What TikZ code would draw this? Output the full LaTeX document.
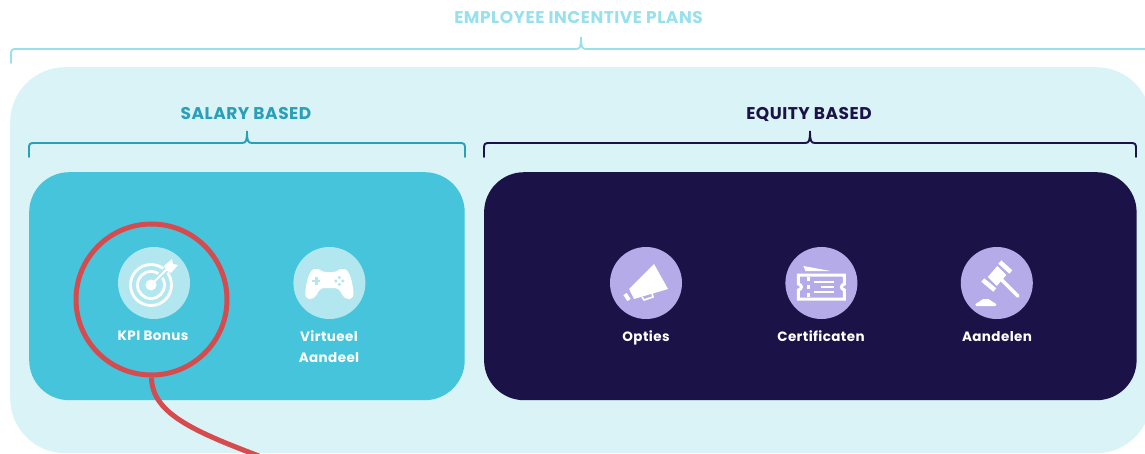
\documentclass[tikz,border=0pt]{standalone}
\usepackage{fontspec}
\setmainfont{Poppins}
\usetikzlibrary{positioning}
\definecolor{paleblue}{HTML}{D9F3F7}
\definecolor{topblue}{HTML}{98E1EC}
\definecolor{salaryblue}{HTML}{45C4DB}
\definecolor{salaryhead}{HTML}{2A9FB8}
\definecolor{iconblue}{HTML}{B2E7F0}
\definecolor{navy}{HTML}{1B1348}
\definecolor{lilac}{HTML}{B5ABE8}
\definecolor{ringred}{HTML}{D64B4E}

\begin{document}
\begin{tikzpicture}[
        x=1pt,y=-1pt,
        panel/.style={
          rectangle,
          rounded corners=40pt,
          minimum height=228pt,
          inner sep=0pt,
          node distance=19pt
        },
        icon/.style={
          circle,
          minimum size=72pt,
          inner sep=0pt,
          node distance=103pt
        },
        caption/.style={
          text=white,
          font=\bfseries\fontsize{13.5}{21}\selectfont\addfontfeatures{LetterSpace=3},
          align=center,
          anchor=north,
          inner sep=0pt
        },
        heading/.style={
          font=\bfseries\fontsize{17}{20}\selectfont\addfontfeatures{LetterSpace=3},
          inner sep=0pt
        },
        bracket/.style={line width=1.9pt,line cap=round}
      ]
      \clip (0,0) rectangle (1145,454);
      \node[rectangle,rounded corners=55pt,fill=paleblue,minimum width=1141pt,
        minimum height=386pt,inner sep=0pt,anchor=north west] (plans) at (10,67) {};
      \node[panel,fill=salaryblue,minimum width=435.5pt,anchor=north west] (salary) at (29,172) {};
      \node[panel,fill=navy,minimum width=652.5pt] (equity) [right=of salary] {};

      \node[heading,text=topblue] (planstitle) at (578.5,18) {EMPLOYEE INCENTIVE PLANS};
      \node[heading,text=salaryhead] (salarytitle) at (246,114) {SALARY BASED};
      \node[heading,text=navy] (equitytitle) at (809,114) {EQUITY BASED};

      % brackets under the headings
      \foreach \l/\m/\r/\y/\c in {11/581/1175/49/topblue,29/247/465/143/salaryhead,484/810/1136/143/navy}{
        \draw[bracket,\c] (\l,\y+14) -- (\l,\y+5) .. controls (\l,\y+1) and (\l+1,\y) .. (\l+5,\y)
          -- (\m-5,\y) .. controls (\m-1,\y) and (\m,\y-2) .. (\m,\y-12)
          .. controls (\m,\y-2) and (\m+1,\y) .. (\m+5,\y)
          -- (\r-5,\y) .. controls (\r-1,\y) and (\r,\y+1) .. (\r,\y+5) -- (\r,\y+14);
      }

      \node[icon,fill=iconblue] (kpi) at (154,283) {};
      \node[icon,fill=iconblue] (virtueel) [right=of kpi] {};
      \node[icon,fill=lilac] (opties) at (646,283) {};
      \node[icon,fill=lilac] (certificaten) [right=of opties] {};
      \node[icon,fill=lilac] (aandelen) [right=of certificaten] {};

      \node[caption] (kpitext) at (153,331) {KPI Bonus};
      \node[caption] (virtueeltext) at (329,330) {Virtueel\\Aandeel};
      \node[caption] (optiestext) at (646,330) {Opties};
      \node[caption] (certificatentext) at (821,330) {Certificaten};
      \node[caption] (aandelentext) at (997,331) {Aandelen};

      % target
      \begin{scope}[shift={(kpi.center)}]
        \draw[white,line width=2.8pt] (-3,2) circle (20.5) (-3,2) circle (13.5);
        \draw[iconblue,line width=5.5pt] (-3,2) -- (20,-21);
        \fill[white] (-3,2) circle (5.5);
        \draw[white,line width=2pt] (-3,2) -- (13,-14);
        \fill[white] (10,-17) -- (18,-24) -- (19,-19) -- (24,-18) -- (17,-10) -- (13,-12) -- cycle;
      \end{scope}
      % game pad
      \begin{scope}[shift={(virtueel.center)}]
        \fill[white] (-15,-14) .. controls (-9,-15) and (-8,-11) .. (-4,-11) -- (4,-11)
          .. controls (8,-11) and (9,-15) .. (15,-14) .. controls (20,-13) and (23,-2) .. (24,9)
          .. controls (25,18) and (17,18) .. (13,12) .. controls (10,6) and (8,5) .. (4,5) -- (-4,5)
          .. controls (-8,5) and (-10,6) .. (-13,12) .. controls (-17,18) and (-25,18) .. (-24,9)
          .. controls (-23,-2) and (-20,-13) .. (-15,-14) -- cycle;
        \draw[iconblue,line width=2.4pt] (-17,-2) -- (-9,-2) (-13,-6) -- (-13,2);
        \foreach \dx/\dy in {0/-3.5,0/3.5,-3.5/0,3.5/0}
          \fill[iconblue] (10+\dx,-2+\dy) circle (1.7);
      \end{scope}
      % megaphone
      \begin{scope}[shift={(opties.center)}]
        \fill[white] (-17,6) -- (8,-19) -- (22,6) -- (-12,16) -- cycle;
        \draw[white,line width=4pt] (-21,11) -- (-17,17);
        \draw[white,line width=1.6pt] (-4,14) -- (-2,17) -- (7,14) -- (6,10);
      \end{scope}
      % tickets
      \begin{scope}[shift={(certificaten.center)}]
        \fill[white] (-18,-17) -- (9,-12) -- (-16,-12) -- cycle;
        \draw[white,line width=3pt,fill=lilac] (-23,-8) -- (23,-8) -- (23,1) .. controls (19,2) and (19,6) .. (23,7)
          -- (23,16) -- (-23,16) -- (-23,7) .. controls (-19,6) and (-19,2) .. (-23,1) -- cycle;
        \draw[white,line width=2.6pt] (-13,-6) -- (-13,-2) (-13,2) -- (-13,6) (-13,10) -- (-13,14);
        \draw[white,line width=2.6pt] (-7,-1) -- (13,-1) (0,4) -- (13,4) (-7,9) -- (13,9);
      \end{scope}
      % gavel
      \begin{scope}[shift={(aandelen.center)}]
        \fill[white] (0.5,-17) -- (9.5,-8) -- (0,3) -- (-9,-6) -- cycle;
        \draw[white,line width=4.5pt] (3,-21) -- (14,-11) (-14,-3) -- (-2,7);
        \draw[white,line width=3.6pt,line cap=round] (4,-4) -- (21,13);
        \fill[white,rounded corners=1.5pt] (-17,19) -- (-15,16) -- (-7,16) -- (-5,19) -- (-1,20) -- (0,23) -- (-22,23) -- (-21,20) -- cycle;
      \end{scope}

      \node[circle,draw=ringred,line width=5pt,minimum size=151pt,inner sep=0pt] (focus) at (151.5,299.5) {};
      \coordinate (focusend) at (259,456);
      \draw[ringred,line width=5pt] (focus.south) .. controls (152,412) and (190,430) .. (focusend);
      \end{tikzpicture}
\end{document}
